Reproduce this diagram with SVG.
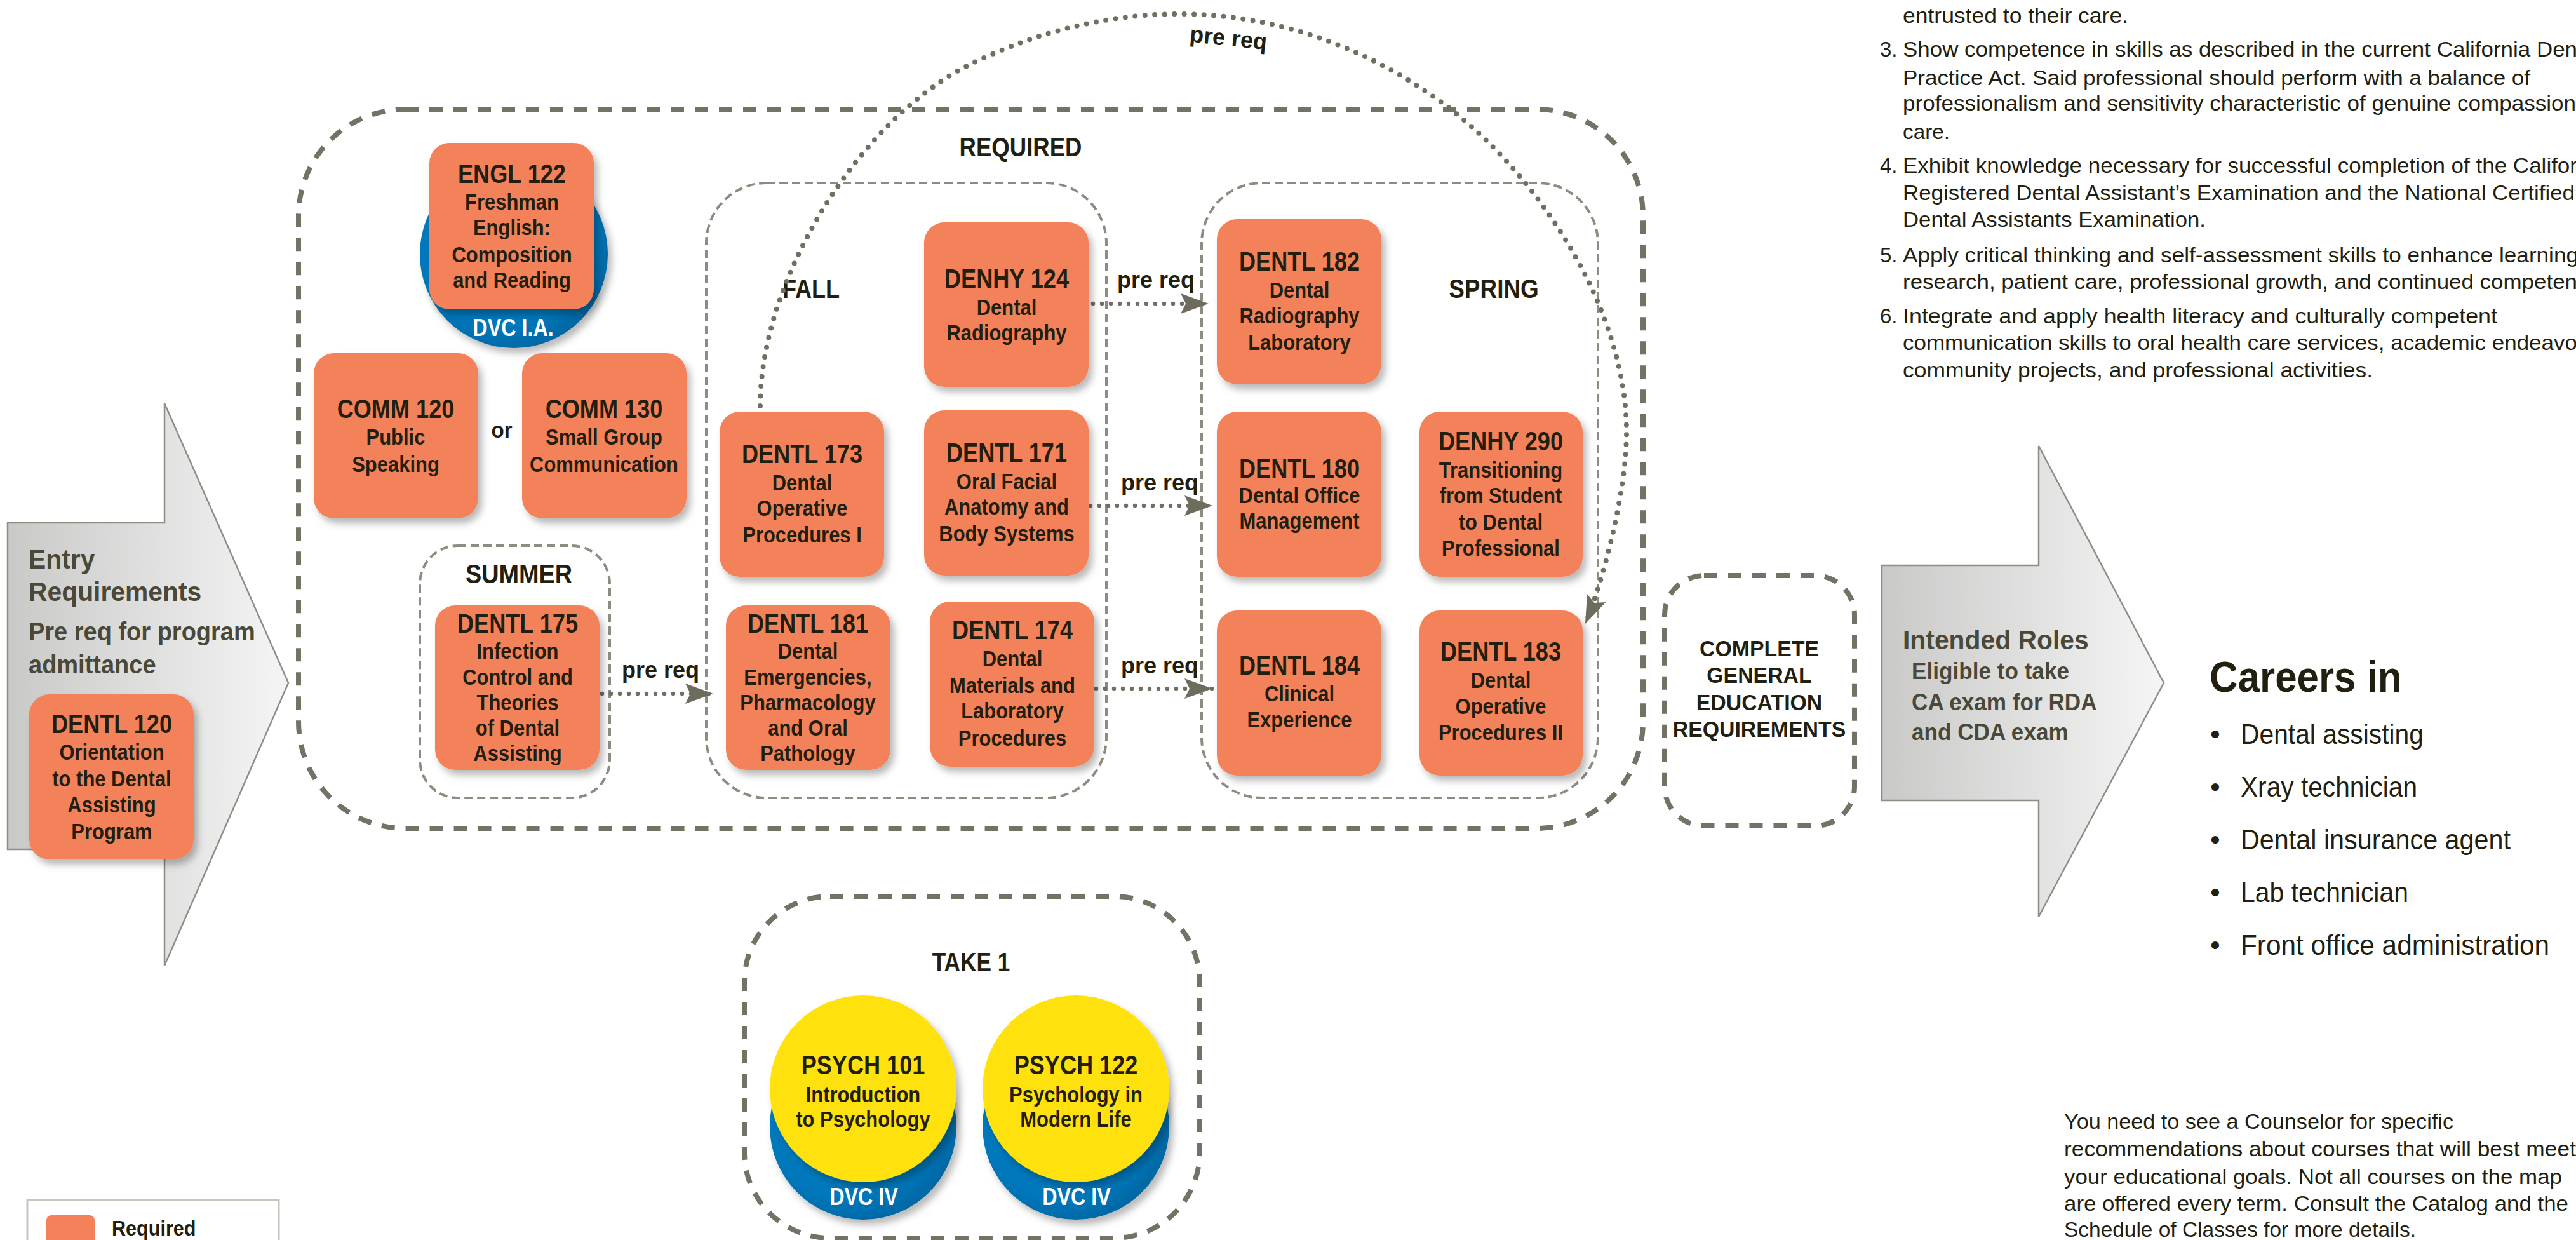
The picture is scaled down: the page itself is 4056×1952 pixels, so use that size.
<svg xmlns="http://www.w3.org/2000/svg" width="4056" height="1952" viewBox="0 0 4056 1952">
<defs>
<style>
.f{font-family:"Liberation Sans",Arial,Helvetica,sans-serif}
.box{fill:#F3825A;filter:url(#sh)}
.t{font-family:"Liberation Sans",Arial,sans-serif;fill:#231f10;text-anchor:middle;font-weight:bold;font-size:36px}
.t .h{font-size:42px}
.w{font-family:"Liberation Sans",Arial,sans-serif;fill:#ffffff;text-anchor:middle;font-weight:bold;font-size:38px}
.sec{font-family:"Liberation Sans",Arial,sans-serif;fill:#231f10;text-anchor:middle;font-weight:bold;font-size:43px}
.pr{font-family:"Liberation Sans",Arial,sans-serif;fill:#231f10;text-anchor:middle;font-weight:bold;font-size:36px}
.dO{fill:none;stroke:#747264;stroke-width:8;stroke-dasharray:21 17}
.dI{fill:none;stroke:#8e8c80;stroke-width:4;stroke-dasharray:13 7}
.dots{fill:none;stroke:#716f61;stroke-width:6.5;stroke-linecap:round;stroke-dasharray:0 14;marker-end:url(#ah)}
.arc{stroke-width:8;stroke-dasharray:0 15.5}
.gt{font-family:"Liberation Sans",Arial,sans-serif;fill:#4a4839;font-weight:bold}
.p{font-family:"Liberation Sans",Arial,sans-serif;fill:#231f10;font-size:33px}
.ar{stroke:#8f8e84;stroke-width:2.5}
</style>
<filter id="sh" x="-20%" y="-20%" width="150%" height="150%">
<feDropShadow dx="6" dy="8" stdDeviation="6" flood-color="#000" flood-opacity="0.28"/>
</filter>
<marker id="ah" markerUnits="userSpaceOnUse" markerWidth="46" markerHeight="34" viewBox="0 0 46 34" refX="45" refY="17" orient="auto">
<path d="M1,1 L45,17 L1,33 L9,17 Z" fill="#6e6c5d"/>
</marker>
<linearGradient id="ga" gradientUnits="userSpaceOnUse" x1="12" y1="0" x2="454" y2="0">
<stop offset="0" stop-color="#c9c9c8"/><stop offset="1" stop-color="#f4f5f4"/>
</linearGradient>
<linearGradient id="gb" gradientUnits="userSpaceOnUse" x1="2963" y1="0" x2="3407" y2="0">
<stop offset="0" stop-color="#c9c9c8"/><stop offset="1" stop-color="#f4f5f4"/>
</linearGradient>
<radialGradient id="bl" cx="0.42" cy="0.42" r="0.62">
<stop offset="0" stop-color="#0a80c5"/><stop offset="0.75" stop-color="#0077bb"/><stop offset="1" stop-color="#0066a2"/>
</radialGradient>
</defs>
<rect width="4056" height="1952" fill="#ffffff"/>

<!-- big grey arrows -->
<g id="entry">
<path class="ar" d="M12,823 H259 V635 L454,1075 L259,1520 V1337 H12 Z" fill="url(#ga)"/>
<text class="gt" font-size="43" transform="matrix(0.95 0 0 1 45 0)" x="0" y="895">Entry</text>
<text class="gt" font-size="43" transform="matrix(0.95 0 0 1 45 0)" x="0" y="946">Requirements</text>
<text class="gt" font-size="40" transform="matrix(0.95 0 0 1 45 0)" x="0" y="1008">Pre req for program</text>
<text class="gt" font-size="40" transform="matrix(0.95 0 0 1 45 0)" x="0" y="1060">admittance</text>
</g>
<g id="intended">
<path class="ar" d="M2963,890 H3210 V702 L3407,1075 L3210,1443 V1260 H2963 Z" fill="url(#gb)"/>
<text class="gt" font-size="43" transform="matrix(0.95 0 0 1 2996 0)" x="0" y="1022">Intended Roles</text>
<text class="gt" font-size="37" transform="matrix(0.95 0 0 1 3010 0)" x="0" y="1069">Eligible to take</text>
<text class="gt" font-size="37" transform="matrix(0.95 0 0 1 3010 0)" x="0" y="1118">CA exam for RDA</text>
<text class="gt" font-size="37" transform="matrix(0.95 0 0 1 3010 0)" x="0" y="1165">and CDA exam</text>
</g>

<!-- containers -->
<g id="required">
<rect class="dO" x="470" y="172" width="2117" height="1132" rx="168" ry="168"/>
<text class="sec" font-size="46" transform="matrix(0.85 0 0 1 1607 0)" x="0" y="246">REQUIRED</text>
</g>
<g id="fall">
<rect class="dI" x="1112" y="288" width="630" height="968" rx="95" ry="95"/>
<text class="sec" transform="matrix(0.84 0 0 1 1277 0)" x="0" y="469">FALL</text>
</g>
<g id="spring">
<rect class="dI" x="1892" y="288" width="624" height="968" rx="95" ry="95"/>
<text class="sec" transform="matrix(0.86 0 0 1 2352 0)" x="0" y="469">SPRING</text>
</g>
<g id="summer">
<rect class="dI" x="661" y="859" width="299" height="397" rx="60" ry="60"/>
<text class="sec" transform="matrix(0.88 0 0 1 817 0)" x="0" y="918">SUMMER</text>
</g>
<g id="ge">
<rect class="dO" x="2621" y="906" width="299" height="394" rx="62" ry="62"/>
<text class="pr" font-size="34" transform="matrix(0.94 0 0 1 2770 0)" x="0" y="1033">COMPLETE</text>
<text class="pr" font-size="34" transform="matrix(0.94 0 0 1 2770 0)" x="0" y="1075">GENERAL</text>
<text class="pr" font-size="34" transform="matrix(0.94 0 0 1 2770 0)" x="0" y="1118">EDUCATION</text>
<text class="pr" font-size="34" transform="matrix(0.94 0 0 1 2770 0)" x="0" y="1160">REQUIREMENTS</text>
</g>
<g id="take1">
<rect class="dO" x="1172" y="1411" width="717" height="538" rx="135" ry="135"/>
<text class="sec" font-size="46" transform="matrix(0.82 0 0 1 1529 0)" x="0" y="1529">TAKE 1</text>
</g>

<!-- connectors -->
<g id="connectors">
<path class="dots" d="M948,1092 H1123"/>
<path class="dots" d="M1721,478 H1903"/>
<path class="dots" d="M1717,796 H1909"/>
<path class="dots" d="M1726,1084 H1909"/>
<path class="dots arc" d="M1197,639 C1197,439 1354,184 1534,98 C1777,-18 2036,-2 2257,152 C2413,260 2561,480 2561,680 C2561,780 2520,927 2496,982"/>
<text class="pr" x="1040" y="1067">pre req</text>
<text class="pr" x="1820" y="453">pre req</text>
<text class="pr" x="1826" y="772">pre req</text>
<text class="pr" x="1826" y="1060">pre req</text>
<text class="pr" x="1933" y="72" transform="rotate(6 1933 72)">pre req</text>
</g>

<!-- nodes -->
<g id="n_engl122">
<circle cx="809" cy="400" r="148" fill="url(#bl)" filter="url(#sh)"/>
<rect class="box" x="676" y="225" width="259" height="262" rx="32"/>
<text class="t" transform="matrix(0.86 0 0 1 806 0)"><tspan class="h" x="0" y="288">ENGL 122</tspan><tspan x="0" y="330">Freshman</tspan><tspan x="0" y="370">English:</tspan><tspan x="0" y="413">Composition</tspan><tspan x="0" y="453">and Reading</tspan></text>
<text class="w" transform="matrix(0.85 0 0 1 808 0)" x="0" y="529">DVC I.A.</text>
</g>
<g id="n_comm120">
<rect class="box" x="494" y="556" width="259" height="260" rx="32"/>
<text class="t" transform="matrix(0.86 0 0 1 623 0)"><tspan class="h" x="0" y="658">COMM 120</tspan><tspan x="0" y="700">Public</tspan><tspan x="0" y="743">Speaking</tspan></text>
</g>
<text class="pr" font-size="44" transform="matrix(0.92 0 0 1 790 0)" x="0" y="689">or</text>
<g id="n_comm130">
<rect class="box" x="822" y="556" width="259" height="260" rx="32"/>
<text class="t" transform="matrix(0.86 0 0 1 951 0)"><tspan class="h" x="0" y="658">COMM 130</tspan><tspan x="0" y="700">Small Group</tspan><tspan x="0" y="743">Communication</tspan></text>
</g>
<g id="n_dentl120">
<rect class="box" x="46" y="1093" width="259" height="260" rx="32"/>
<text class="t" transform="matrix(0.86 0 0 1 176 0)"><tspan class="h" x="0" y="1154">DENTL 120</tspan><tspan x="0" y="1196">Orientation</tspan><tspan x="0" y="1238">to the Dental</tspan><tspan x="0" y="1279">Assisting</tspan><tspan x="0" y="1321">Program</tspan></text>
</g>
<g id="n_dentl175">
<rect class="box" x="685" y="953" width="259" height="259" rx="32"/>
<text class="t" transform="matrix(0.86 0 0 1 815 0)"><tspan class="h" x="0" y="996">DENTL 175</tspan><tspan x="0" y="1037">Infection</tspan><tspan x="0" y="1078">Control and</tspan><tspan x="0" y="1118">Theories</tspan><tspan x="0" y="1158">of Dental</tspan><tspan x="0" y="1198">Assisting</tspan></text>
</g>
<g id="n_dentl173">
<rect class="box" x="1133" y="648" width="259" height="260" rx="32"/>
<text class="t" transform="matrix(0.86 0 0 1 1263 0)"><tspan class="h" x="0" y="729">DENTL 173</tspan><tspan x="0" y="772">Dental</tspan><tspan x="0" y="812">Operative</tspan><tspan x="0" y="854">Procedures I</tspan></text>
</g>
<g id="n_dentl181">
<rect class="box" x="1143" y="953" width="259" height="259" rx="32"/>
<text class="t" transform="matrix(0.86 0 0 1 1272 0)"><tspan class="h" x="0" y="996">DENTL 181</tspan><tspan x="0" y="1037">Dental</tspan><tspan x="0" y="1078">Emergencies,</tspan><tspan x="0" y="1118">Pharmacology</tspan><tspan x="0" y="1158">and Oral</tspan><tspan x="0" y="1198">Pathology</tspan></text>
</g>
<g id="n_denhy124">
<rect class="box" x="1455" y="350" width="259" height="259" rx="32"/>
<text class="t" transform="matrix(0.86 0 0 1 1585 0)"><tspan class="h" x="0" y="453">DENHY 124</tspan><tspan x="0" y="496">Dental</tspan><tspan x="0" y="536">Radiography</tspan></text>
</g>
<g id="n_dentl171">
<rect class="box" x="1455" y="646" width="259" height="260" rx="32"/>
<text class="t" transform="matrix(0.86 0 0 1 1585 0)"><tspan class="h" x="0" y="727">DENTL 171</tspan><tspan x="0" y="770">Oral Facial</tspan><tspan x="0" y="810">Anatomy and</tspan><tspan x="0" y="852">Body Systems</tspan></text>
</g>
<g id="n_dentl174">
<rect class="box" x="1464" y="947" width="259" height="260" rx="32"/>
<text class="t" transform="matrix(0.86 0 0 1 1594 0)"><tspan class="h" x="0" y="1006">DENTL 174</tspan><tspan x="0" y="1049">Dental</tspan><tspan x="0" y="1091">Materials and</tspan><tspan x="0" y="1131">Laboratory</tspan><tspan x="0" y="1174">Procedures</tspan></text>
</g>
<g id="n_dentl182">
<rect class="box" x="1916" y="345" width="259" height="260" rx="32"/>
<text class="t" transform="matrix(0.86 0 0 1 2046 0)"><tspan class="h" x="0" y="426">DENTL 182</tspan><tspan x="0" y="469">Dental</tspan><tspan x="0" y="509">Radiography</tspan><tspan x="0" y="551">Laboratory</tspan></text>
</g>
<g id="n_dentl180">
<rect class="box" x="1916" y="648" width="259" height="260" rx="32"/>
<text class="t" transform="matrix(0.86 0 0 1 2046 0)"><tspan class="h" x="0" y="752">DENTL 180</tspan><tspan x="0" y="792">Dental Office</tspan><tspan x="0" y="832">Management</tspan></text>
</g>
<g id="n_denhy290">
<rect class="box" x="2235" y="648" width="257" height="260" rx="32"/>
<text class="t" transform="matrix(0.86 0 0 1 2363 0)"><tspan class="h" x="0" y="709">DENHY 290</tspan><tspan x="0" y="752">Transitioning</tspan><tspan x="0" y="792">from Student</tspan><tspan x="0" y="834">to Dental</tspan><tspan x="0" y="875">Professional</tspan></text>
</g>
<g id="n_dentl184">
<rect class="box" x="1916" y="961" width="259" height="260" rx="32"/>
<text class="t" transform="matrix(0.86 0 0 1 2046 0)"><tspan class="h" x="0" y="1062">DENTL 184</tspan><tspan x="0" y="1104">Clinical</tspan><tspan x="0" y="1145">Experience</tspan></text>
</g>
<g id="n_dentl183">
<rect class="box" x="2235" y="961" width="257" height="260" rx="32"/>
<text class="t" transform="matrix(0.86 0 0 1 2363 0)"><tspan class="h" x="0" y="1040">DENTL 183</tspan><tspan x="0" y="1083">Dental</tspan><tspan x="0" y="1124">Operative</tspan><tspan x="0" y="1165">Procedures II</tspan></text>
</g>
<g id="n_psych101">
<circle cx="1359" cy="1773" r="147" fill="url(#bl)" filter="url(#sh)"/>
<circle cx="1359" cy="1714" r="147" fill="#FFE20F" filter="url(#sh)"/>
<text class="t" transform="matrix(0.86 0 0 1 1359 0)"><tspan class="h" x="0" y="1691">PSYCH 101</tspan><tspan x="0" y="1735">Introduction</tspan><tspan x="0" y="1774">to Psychology</tspan></text>
<text class="w" transform="matrix(0.85 0 0 1 1360 0)" x="0" y="1897">DVC IV</text>
</g>
<g id="n_psych122">
<circle cx="1694" cy="1773" r="147" fill="url(#bl)" filter="url(#sh)"/>
<circle cx="1694" cy="1714" r="147" fill="#FFE20F" filter="url(#sh)"/>
<text class="t" transform="matrix(0.86 0 0 1 1694 0)"><tspan class="h" x="0" y="1691">PSYCH 122</tspan><tspan x="0" y="1735">Psychology in</tspan><tspan x="0" y="1774">Modern Life</tspan></text>
<text class="w" transform="matrix(0.85 0 0 1 1695 0)" x="0" y="1897">DVC IV</text>
</g>

<!-- careers -->
<g id="careers">
<text class="f" font-weight="bold" font-size="68" fill="#231f10" transform="matrix(0.91 0 0 1 3479 0)" x="0" y="1089">Careers in</text>
<g class="f" font-size="45" fill="#231f10">
<text x="3488" y="1171" text-anchor="middle">•</text><text x="3528" y="1171" textLength="288" lengthAdjust="spacingAndGlyphs">Dental assisting</text>
<text x="3488" y="1254" text-anchor="middle">•</text><text x="3528" y="1254" textLength="278" lengthAdjust="spacingAndGlyphs">Xray technician</text>
<text x="3488" y="1337" text-anchor="middle">•</text><text x="3528" y="1337" textLength="425" lengthAdjust="spacingAndGlyphs">Dental insurance agent</text>
<text x="3488" y="1420" text-anchor="middle">•</text><text x="3528" y="1420" textLength="264" lengthAdjust="spacingAndGlyphs">Lab technician</text>
<text x="3488" y="1503" text-anchor="middle">•</text><text x="3528" y="1503" textLength="486" lengthAdjust="spacingAndGlyphs">Front office administration</text>
</g>
</g>

<!-- outcomes text -->
<g id="outcomes" class="p">
<text x="2996" y="36" textLength="355" lengthAdjust="spacingAndGlyphs">entrusted to their care.</text>
<text x="2960" y="89">3.</text>
<text x="2996" y="89" textLength="1062" lengthAdjust="spacingAndGlyphs">Show competence in skills as described in the current California Den</text>
<text x="2996" y="134" textLength="988" lengthAdjust="spacingAndGlyphs">Practice Act. Said professional should perform with a balance of</text>
<text x="2996" y="174" textLength="1060" lengthAdjust="spacingAndGlyphs">professionalism and sensitivity characteristic of genuine compassion</text>
<text x="2996" y="219" textLength="74" lengthAdjust="spacingAndGlyphs">care.</text>
<text x="2960" y="272">4.</text>
<text x="2996" y="272" textLength="1062" lengthAdjust="spacingAndGlyphs">Exhibit knowledge necessary for successful completion of the Califor</text>
<text x="2996" y="315" textLength="1058" lengthAdjust="spacingAndGlyphs">Registered Dental Assistant’s Examination and the National Certified</text>
<text x="2996" y="357" textLength="477" lengthAdjust="spacingAndGlyphs">Dental Assistants Examination.</text>
<text x="2960" y="413">5.</text>
<text x="2996" y="413" textLength="1064" lengthAdjust="spacingAndGlyphs">Apply critical thinking and self-assessment skills to enhance learning</text>
<text x="2996" y="455" textLength="1062" lengthAdjust="spacingAndGlyphs">research, patient care, professional growth, and continued competen</text>
<text x="2960" y="509">6.</text>
<text x="2996" y="509" textLength="936" lengthAdjust="spacingAndGlyphs">Integrate and apply health literacy and culturally competent</text>
<text x="2996" y="551" textLength="1062" lengthAdjust="spacingAndGlyphs">communication skills to oral health care services, academic endeavo</text>
<text x="2996" y="594" textLength="740" lengthAdjust="spacingAndGlyphs">community projects, and professional activities.</text>
</g>

<g id="counselor" class="p">
<text x="3250" y="1777" textLength="613" lengthAdjust="spacingAndGlyphs">You need to see a Counselor for specific</text>
<text x="3250" y="1820" textLength="806" lengthAdjust="spacingAndGlyphs">recommendations about courses that will best meet</text>
<text x="3250" y="1864" textLength="784" lengthAdjust="spacingAndGlyphs">your educational goals. Not all courses on the map</text>
<text x="3250" y="1906" textLength="794" lengthAdjust="spacingAndGlyphs">are offered every term. Consult the Catalog and the</text>
<text x="3250" y="1947" textLength="554" lengthAdjust="spacingAndGlyphs">Schedule of Classes for more details.</text>
</g>

<!-- legend -->
<g id="legend">
<rect x="43" y="1889" width="396" height="90" fill="#ffffff" stroke="#c6c6bd" stroke-width="3"/>
<rect x="73" y="1913" width="76" height="76" rx="8" fill="#F3825A"/>
<text class="f" font-weight="bold" font-size="34" fill="#231f10" transform="matrix(0.9 0 0 1 176 0)" x="0" y="1945">Required</text>
</g>
</svg>
